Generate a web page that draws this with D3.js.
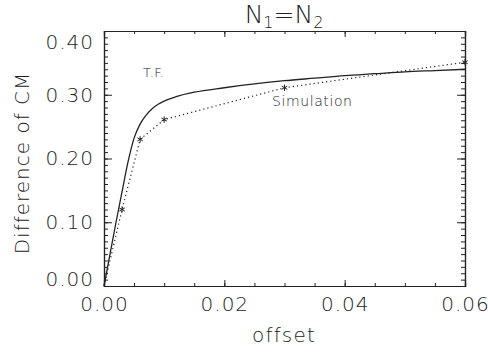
<!DOCTYPE html>
<html><head><meta charset="utf-8">
<script src="https://cdn.jsdelivr.net/npm/d3@7"></script>
<style>
body{margin:0;background:#fff;}
svg{display:block;font-family:"DejaVu Sans",sans-serif;font-weight:200;}
</style></head>
<body><svg id="c" width="488" height="353"></svg>
<script>
// T.F. (theory) curve
const tfOffset = [0,0.001,0.002,0.003,0.004,0.005,0.006,0.007,0.008,0.009,0.010,0.012,0.015,0.020,0.025,0.030,0.035,0.040,0.045,0.050,0.055,0.060];
const tfValue  = [0,0.050,0.100,0.148,0.195,0.232,0.254,0.268,0.278,0.285,0.290,0.297,0.304,0.311,0.317,0.322,0.326,0.330,0.333,0.336,0.338,0.340];
// Simulation points
const simOffset = [0,0.003,0.006,0.010,0.030,0.060];
const simValue  = [0,0.120,0.230,0.261,0.311,0.351];
const xTicks = [0,0.02,0.04,0.06];
const yTicks = [0,0.1,0.2,0.3,0.4];

const svg = d3.select("#c");
const L=104,R=465,T=31,B=286;
const x = d3.scaleLinear().domain([0,0.06]).range([L,R]);
const y = d3.scaleLinear().domain([0,0.4]).range([B,T]);
const fmt = d3.format(".2f");
const ink="#222";

function styleAxis(g){
  g.selectAll("path").attr("stroke",ink).attr("stroke-width",1.2);
  g.selectAll("line").attr("stroke",ink).attr("stroke-width",1);
  g.selectAll("text").attr("fill",ink).attr("font-size",20).attr("letter-spacing",1).attr("font-family","DejaVu Sans").attr("font-weight",200);
}
const xMinor = d3.range(0,0.0601,0.005);
const yMinor = d3.range(0,0.4001,0.01);
// minor ticks
svg.append("g").attr("transform",`translate(0,${B})`).call(d3.axisBottom(x).tickValues(xMinor).tickSize(-3).tickFormat("")).call(styleAxis);
svg.append("g").attr("transform",`translate(0,${T})`).call(d3.axisTop(x).tickValues(xMinor).tickSize(-3).tickFormat("")).call(styleAxis);
svg.append("g").attr("transform",`translate(${L},0)`).call(d3.axisLeft(y).tickValues(yMinor).tickSize(-4).tickFormat("")).call(styleAxis);
svg.append("g").attr("transform",`translate(${R},0)`).call(d3.axisRight(y).tickValues(yMinor).tickSize(-4).tickFormat("")).call(styleAxis);
// major ticks
svg.append("g").attr("transform",`translate(0,${B})`).call(d3.axisBottom(x).tickValues(xTicks).tickSize(-6).tickPadding(11).tickFormat(fmt)).call(styleAxis);
svg.append("g").attr("transform",`translate(0,${T})`).call(d3.axisTop(x).tickValues(xTicks).tickSize(-6).tickFormat("")).call(styleAxis);
const yAx = svg.append("g").attr("transform",`translate(${L},0)`).call(d3.axisLeft(y).tickValues(yTicks).tickSize(-8).tickPadding(10).tickFormat(fmt)).call(styleAxis);
// end labels sit inside the frame height, as in the reference
yAx.selectAll(".tick text").attr("dy",d=> d===0.4 ? "0.85em" : (d===0 ? "-0.05em" : "0.32em"));
svg.append("g").attr("transform",`translate(${R},0)`).call(d3.axisRight(y).tickValues(yTicks).tickSize(-8).tickFormat("")).call(styleAxis);

// curves
const tf = tfOffset.map((d,i)=>[d,tfValue[i]]);
const sim = simOffset.map((d,i)=>[d,simValue[i]]);
svg.append("path").datum(tf).attr("fill","none").attr("stroke",ink).attr("stroke-width",1.3)
  .attr("d",d3.line().x(d=>x(d[0])).y(d=>y(d[1])).curve(d3.curveMonotoneX));
svg.append("path").datum(sim).attr("fill","none").attr("stroke",ink).attr("stroke-width",1.2)
  .attr("stroke-dasharray","1.2,3")
  .attr("d",d3.line().x(d=>x(d[0])).y(d=>y(d[1])));
const star = d3.symbol().type(d3.symbolAsterisk).size(28);
svg.append("g").selectAll("path").data(sim.slice(1)).join("path")
  .attr("transform",d=>`translate(${x(d[0])},${y(d[1])})`)
  .attr("d",star).attr("fill","none").attr("stroke",ink).attr("stroke-width",1);

// labels
svg.append("text").attr("x",143).attr("y",77).attr("font-size",13).attr("fill",ink).attr("letter-spacing",0.3).text("T.F.");
svg.append("text").attr("x",272).attr("y",106).attr("font-size",14).attr("fill",ink).attr("letter-spacing",0.6).text("Simulation");
svg.append("text").attr("x",284).attr("y",342).attr("text-anchor","middle").attr("font-size",20).attr("letter-spacing",1.2).attr("fill",ink).text("offset");
svg.append("text").attr("transform","translate(29,163) rotate(-90)").attr("text-anchor","middle").attr("font-size",20).attr("letter-spacing",1).attr("fill",ink).text("Difference of CM");
const t = svg.append("text").attr("x",284).attr("y",23).attr("text-anchor","middle").attr("font-size",25).attr("fill",ink);
t.append("tspan").text("N");
t.append("tspan").attr("font-size",16).attr("dy",5).text("1");
t.append("tspan").attr("dy",-5).text("=N");
t.append("tspan").attr("font-size",16).attr("dy",5).text("2");
</script></body></html>
